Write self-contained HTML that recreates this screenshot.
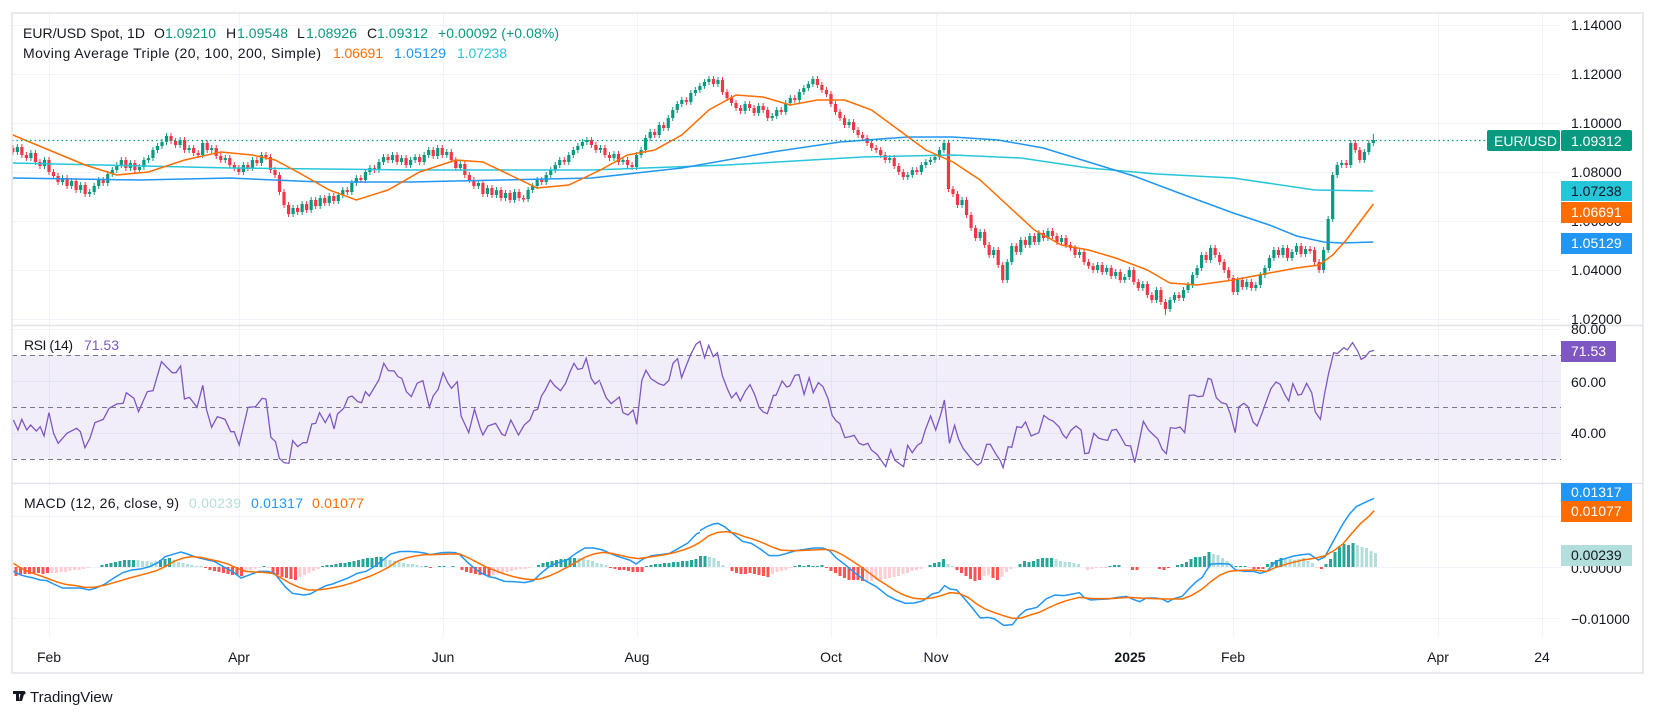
<!DOCTYPE html>
<html><head><meta charset="utf-8"><style>
html,body{margin:0;padding:0;background:#fff;}
svg{display:block;font-family:"Liberation Sans",sans-serif;}
.ns{vector-effect:non-scaling-stroke;fill:none;}
</style></head><body>
<svg width="1656" height="718" viewBox="0 0 1656 718" xmlns="http://www.w3.org/2000/svg">
<defs>
<clipPath id="cp1"><rect x="12" y="13" width="1549" height="312"/></clipPath>
<clipPath id="cp2"><rect x="12" y="326" width="1549" height="157"/></clipPath>
<clipPath id="cp3"><rect x="12" y="484" width="1549" height="154"/></clipPath>
</defs>
<rect x="0" y="0" width="1656" height="718" fill="#fff"/>
<g stroke="#f0f3fa" stroke-width="1">
<line x1="49.5" y1="13" x2="49.5" y2="638"/><line x1="239.5" y1="13" x2="239.5" y2="638"/><line x1="443.5" y1="13" x2="443.5" y2="638"/><line x1="637.5" y1="13" x2="637.5" y2="638"/><line x1="831.5" y1="13" x2="831.5" y2="638"/><line x1="936.5" y1="13" x2="936.5" y2="638"/><line x1="1130.5" y1="13" x2="1130.5" y2="638"/><line x1="1233.5" y1="13" x2="1233.5" y2="638"/><line x1="1438.5" y1="13" x2="1438.5" y2="638"/><line x1="1542.5" y1="13" x2="1542.5" y2="638"/>
<line x1="12" y1="25.5" x2="1561" y2="25.5"/><line x1="12" y1="74.5" x2="1561" y2="74.5"/><line x1="12" y1="123.5" x2="1561" y2="123.5"/><line x1="12" y1="172.5" x2="1561" y2="172.5"/><line x1="12" y1="221.5" x2="1561" y2="221.5"/><line x1="12" y1="270.5" x2="1561" y2="270.5"/><line x1="12" y1="319.5" x2="1561" y2="319.5"/>
<line x1="12" y1="329.5" x2="1561" y2="329.5"/><line x1="12" y1="381.5" x2="1561" y2="381.5"/><line x1="12" y1="433.5" x2="1561" y2="433.5"/>
<line x1="12" y1="516.5" x2="1561" y2="516.5"/><line x1="12" y1="567.5" x2="1561" y2="567.5"/><line x1="12" y1="618.5" x2="1561" y2="618.5"/>
</g>
<rect x="12" y="355" width="1549" height="104" fill="#7e57c2" fill-opacity="0.1"/>
<g stroke="#787b86" stroke-dasharray="5,4" stroke-width="1">
<line x1="12" y1="355.5" x2="1561" y2="355.5"/>
<line x1="12" y1="407.5" x2="1561" y2="407.5"/>
<line x1="12" y1="459.5" x2="1561" y2="459.5"/>
</g>

<g clip-path="url(#cp1)">
<g transform="translate(49,0) scale(4.52,1)">
<path class="ns" stroke="#089981" stroke-width="1" d="M-7,144V155M-4,150V161M-1,157V169M3,175V185M5,178V189M7,182V193M9,189V197M10,183V195M11,177V189M13,171V186M14,167V177M15,162V173M16,157V168M18,160V171M20,164V173M21,157V170M22,155V163M23,147V161M24,143V153M25,139V149M26,133V145M29,137V148M31,145V153M34,140V158M36,145V153M39,155V163M43,162V175M45,157V171M47,152V166M54,205V217M56,201V215M58,197V213M60,195V209M62,193V206M64,192V204M65,187V198M67,180V195M68,175V186M70,169V183M71,165V175M73,159V173M74,154V165M76,152V163M78,155V165M80,157V168M81,154V163M83,152V165M84,147V158M86,145V159M88,149V158M91,161V171M95,180V189M97,185V197M99,187V198M101,190V201M103,189V203M106,187V202M107,183V193M108,177V189M110,172V185M111,167V178M112,162V173M113,157V168M115,152V165M116,147V158M117,143V153M118,139V149M119,137V145M122,145V153M125,151V161M127,157V165M130,152V170M131,147V158M132,135V153M133,129V141M135,122V138M137,115V131M138,107V121M139,101V113M140,97V107M142,90V105M143,87V96M144,83V93M145,79V89M146,76V85M148,77V87M154,101V114M157,103V116M160,113V121M161,107V119M163,100V115M164,95V106M166,89V103M167,85V95M168,81V91M169,76V87M177,119V128M186,155V163M190,172V180M191,167V178M193,162V175M194,159V168M195,157V165M196,154V163M197,147V160M198,140V153M202,197V208M206,229V241M209,247V258M212,259V283M213,243V265M215,237V255M217,233V248M219,230V245M221,228V241M224,235V245M228,249V258M232,262V273M234,265V275M236,269V279M238,274V283M239,267V280M242,281V291M245,287V303M248,297V312M249,292V303M251,287V301M252,282V293M253,272V288M254,265V278M255,252V271M257,245V263M263,277V295M265,279V290M267,282V291M268,272V288M269,265V278M270,255V271M271,247V261M273,245V258M275,249V261M276,243V255M278,246V257M282,247V273M283,216V253M284,172V222M285,162V178M286,160V168M288,140V168M291,149V163M292,140V155M293,134V146"/>
<path class="ns" stroke="#089981" stroke-width="3.2" d="M-7,147V152M-4,153V158M-1,160V166M3,178V182M5,181V186M7,185V190M9,192V194M10,186V192M11,180V186M13,174V183M14,170V174M15,165V170M16,160V165M18,163V168M20,167V170M21,160V167M22,158V160M23,150V158M24,146V150M25,142V146M26,136V142M29,140V145M31,148V150M34,143V155M36,148V150M39,158V160M43,165V172M45,160V168M47,155V163M54,208V214M56,204V212M58,200V210M60,198V206M62,196V203M64,195V201M65,190V195M67,183V192M68,178V183M70,172V180M71,168V172M73,162V170M74,157V162M76,155V160M78,158V162M80,160V165M81,157V160M83,155V162M84,150V155M86,148V156M88,152V155M91,164V168M95,183V186M97,188V194M99,190V195M101,193V198M103,192V200M106,190V199M107,186V190M108,180V186M110,175V182M111,170V175M112,165V170M113,160V165M115,155V162M116,150V155M117,146V150M118,142V146M119,140V142M122,148V150M125,154V158M127,160V162M130,155V167M131,150V155M132,138V150M133,132V138M135,125V135M137,118V128M138,110V118M139,104V110M140,100V104M142,93V102M143,90V93M144,86V90M145,82V86M146,79V82M148,80V84M154,104V111M157,106V113M160,116V118M161,110V116M163,103V112M164,98V103M166,92V100M167,88V92M168,84V88M169,79V84M177,122V125M186,158V160M190,175V177M191,170V175M193,165V172M194,162V165M195,160V162M196,157V160M197,150V157M198,143V150M202,200V205M206,232V238M209,250V255M212,262V280M213,246V262M215,240V252M217,236V245M219,233V242M221,231V238M224,238V242M228,252V255M232,265V270M234,268V272M236,272V276M238,277V280M239,270V277M242,284V288M245,290V300M248,300V309M249,295V300M251,290V298M252,285V290M253,275V285M254,268V275M255,255V268M257,248V260M263,280V292M265,282V287M267,285V288M268,275V285M269,268V275M270,258V268M271,250V258M273,248V255M275,252V258M276,246V252M278,249V254M282,250V270M283,219V250M284,175V219M285,165V175M286,163V165M288,143V165M291,152V160M292,143V152M293,140V143"/>
<path class="ns" stroke="#f23645" stroke-width="1" d="M-8,145V155M-6,144V158M-5,152V161M-3,150V165M-2,159V169M0,157V175M1,169V179M2,173V185M4,175V189M6,178V193M8,182V197M12,177V186M17,157V171M19,160V173M27,133V144M28,138V148M30,137V153M32,145V156M33,150V158M35,140V153M37,145V159M38,153V163M40,155V168M41,162V171M42,165V175M44,162V171M46,157V166M48,152V160M49,154V173M50,167V178M51,172V195M52,189V208M53,202V217M55,205V215M57,201V213M59,197V209M61,195V206M63,193V204M66,187V195M69,175V183M72,165V173M75,154V163M77,152V165M79,155V168M82,154V165M85,147V159M87,145V158M89,149V163M90,157V171M92,161V178M93,172V183M94,177V189M96,180V197M98,185V198M100,187V201M102,190V203M104,189V201M105,195V202M109,177V185M114,157V165M120,137V148M121,142V153M123,145V158M124,152V161M126,151V165M128,157V168M129,162V170M134,129V138M136,122V131M141,97V105M147,76V87M149,77V95M150,89V101M151,95V106M152,100V111M153,105V114M155,101V111M156,105V116M158,103V113M159,107V121M162,107V115M165,95V103M170,76V88M171,82V93M172,87V97M173,91V107M174,101V115M175,109V121M176,115V128M178,119V133M179,127V138M180,132V141M181,135V146M182,140V151M183,145V153M184,147V158M185,152V163M187,155V169M188,163V175M189,169V180M192,167V175M199,140V192M200,186V197M201,191V208M203,197V218M204,212V231M205,225V241M207,229V248M208,242V258M210,247V268M211,262V283M214,243V255M216,237V248M218,233V245M220,230V241M222,228V239M223,233V245M225,235V248M226,242V251M227,245V258M229,249V265M230,259V269M231,263V273M233,262V275M235,265V279M237,269V283M240,267V285M241,279V291M243,281V298M244,292V303M246,287V305M247,299V315M250,292V301M256,252V263M258,245V258M259,252V265M260,259V273M261,267V281M262,275V295M264,277V290M266,279V291M272,247V258M274,245V261M277,243V257M279,246V254M280,247V265M281,259V273M287,160V168M289,140V153M290,147V163"/>
<path class="ns" stroke="#f23645" stroke-width="3.2" d="M-8,148V152M-6,147V155M-5,155V158M-3,153V162M-2,162V166M0,160V172M1,172V176M2,176V182M4,178V186M6,181V190M8,185V194M12,180V183M17,160V168M19,163V170M27,136V141M28,141V145M30,140V150M32,148V153M33,153V155M35,143V150M37,148V156M38,156V160M40,158V165M41,165V168M42,168V172M44,165V168M46,160V163M48,155V157M49,157V170M50,170V175M51,175V192M52,192V205M53,205V214M55,208V212M57,204V210M59,200V206M61,198V203M63,196V201M66,190V192M69,178V180M72,168V170M75,157V160M77,155V162M79,158V165M82,157V162M85,150V156M87,148V155M89,152V160M90,160V168M92,164V175M93,175V180M94,180V186M96,183V194M98,188V195M100,190V198M102,193V200M104,192V198M105,198V199.5M109,180V182M114,160V162M120,140V145M121,145V150M123,148V155M124,155V158M126,154V162M128,160V165M129,165V167M134,132V135M136,125V128M141,100V102M147,79V84M149,80V92M150,92V98M151,98V103M152,103V108M153,108V111M155,104V108M156,108V113M158,106V110M159,110V118M162,110V112M165,98V100M170,79V85M171,85V90M172,90V94M173,94V104M174,104V112M175,112V118M176,118V125M178,122V130M179,130V135M180,135V138M181,138V143M182,143V148M183,148V150M184,150V155M185,155V160M187,158V166M188,166V172M189,172V177M192,170V172M199,143V189M200,189V194M201,194V205M203,200V215M204,215V228M205,228V238M207,232V245M208,245V255M210,250V265M211,265V280M214,246V252M216,240V245M218,236V242M220,233V238M222,231V236M223,236V242M225,238V245M226,245V248M227,248V255M229,252V262M230,262V266M231,266V270M233,265V272M235,268V276M237,272V280M240,270V282M241,282V288M243,284V295M244,295V300M246,290V302M247,302V309M250,295V298M256,255V260M258,248V255M259,255V262M260,262V270M261,270V278M262,278V292M264,280V287M266,282V288M272,250V255M274,248V258M277,246V254M279,249V251M280,250V262M281,262V270M287,163V165M289,143V150M290,150V160"/>
<polyline class="ns" stroke="#26c6da" stroke-width="1.5" points="-8,163 40,168 80,170 120,170 150,165 180,157 200,155 215,158 230,168 245,174 262,178 280,190 293,191"/>
<polyline class="ns" stroke="#2196f3" stroke-width="1.5" points="-8,178 20,180 40,178 60,182 80,182 100,180 120,178 140,168 160,152 175,142 190,137 200,137 210,140 220,148 230,162 240,176 250,193 262,213 270,225 276,236 282,242 286,243 293,242"/>
<polyline class="ns" stroke="#ff6d00" stroke-width="1.5" points="-8,135 0,150 8,165 15,175 22,172 30,160 38,152 45,155 50,160 55,172 62,190 68,200 75,190 82,172 90,160 96,162 102,175 108,188 115,185 122,170 128,155 134,150 140,135 146,110 152,95 158,97 164,105 170,100 176,100 182,110 188,130 194,150 200,162 206,180 212,205 218,230 224,245 230,250 236,258 243,270 248,283 254,285 262,280 270,273 276,268 281,265 284,255 287,240 290,222 293,204"/>
</g>
</g>

<g clip-path="url(#cp2)">
<g transform="translate(0,320) scale(0.38265,0.33333)">
<polyline class="ns" stroke="#7e57c2" stroke-width="1.3" points="35,300 47,330 57,298 70,330 80,315 95,333 105,320 115,348 128,278 140,340 152,370 175,340 200,325 210,335 222,383 235,355 248,308 270,298 285,265 305,252 322,250 330,218 350,235 362,275 385,215 400,212 422,125 450,158 460,158 472,138 482,237 495,232 515,262 530,196 540,270 553,322 568,290 588,298 603,335 612,335 625,375 648,262 668,260 685,235 695,237 708,352 720,365 730,415 742,428 755,430 765,362 778,380 792,368 802,368 815,312 825,310 835,278 850,308 862,282 873,327 882,282 898,265 910,232 920,228 935,245 945,248 955,215 965,228 990,180 1003,130 1015,152 1030,153 1040,170 1050,175 1062,215 1075,230 1090,190 1105,182 1122,262 1132,228 1145,208 1158,158 1170,188 1180,205 1195,185 1205,288 1225,338 1240,268 1255,325 1262,345 1275,318 1295,310 1312,343 1320,347 1335,300 1355,345 1370,315 1385,300 1395,272 1405,268 1415,228 1425,210 1438,180 1450,198 1465,212 1478,190 1490,155 1500,130 1510,148 1522,145 1532,115 1545,175 1555,192 1568,180"/>
</g>
<g transform="translate(600,326) scale(0.5102,0.33333)">
<polyline class="ns" stroke="#7e57c2" stroke-width="1.3" points="0,168 12,215 22,233 38,213 45,260 55,267 65,252 72,295 82,163 90,133 100,158 115,173 125,178 135,163 143,112 152,98 160,155 170,115 178,85 188,55 196,46 205,95 213,58 222,92 230,80 240,150 250,190 258,216 267,200 275,225 285,195 294,176 303,205 312,245 320,258 328,263 340,208 345,208 357,165 366,183 372,180 382,148 390,146 400,205 410,155 418,200 428,170 437,182 447,218 455,268 463,285 470,293 480,335 490,332 498,328 508,352 516,357 525,352 532,372 543,385 552,405 560,422 570,372 578,403 595,422 603,358 612,380 622,358 630,350 638,310 648,270 658,312 668,265 675,222 685,352 695,298 703,340 712,368 720,383 730,403 740,418 747,410 758,355 765,355 775,382 785,405 790,425 800,362 807,364 817,302 826,305 834,288 845,330 860,320 870,268 880,280 888,285 900,303 907,325 914,337 923,313 933,300 943,312 950,383 958,381 968,322 977,336 985,340 995,343 1003,313 1012,310 1020,330 1030,358 1040,360 1048,410 1055,360 1065,286 1075,312 1087,330 1093,338 1102,370 1110,383 1118,305 1128,307 1137,303 1146,320 1155,208 1165,207 1172,212 1182,210 1192,157 1198,160 1208,215 1218,230 1228,234 1235,262 1245,320 1252,243 1262,232 1270,242 1280,288 1288,300 1298,260 1305,230 1315,188 1325,168 1333,175 1343,208 1350,225 1358,173 1368,207 1375,205 1385,172 1395,200 1402,258 1412,280 1420,205 1428,143 1438,80 1445,83 1458,65 1465,72 1475,50 1485,75 1492,100 1500,93 1508,77 1517,73"/>
</g>
</g>

<g clip-path="url(#cp3)">
<path stroke="#ff5252" stroke-width="3" fill="none" d="M16,567v9M20.5,567v8M25,567v7M29.5,567v7M34,567v6M38.5,567v6M43,567v7M47.5,567v6M205.5,567v1M210,567v3M214.5,567v4M219,567v5M223.5,567v6M228,567v7M232.5,567v8M237,567v8M241.5,567v9M273,567v6M277.5,567v8M282,567v10M286.5,567v11M291,567v12M295.5,567v13M430.5,567v1M462,567v3M466.5,567v5M471,567v6M475.5,567v7M480,567v8M484.5,567v8M489,567v9M610.5,567v1M615,567v2M619.5,567v3M624,567v3M628.5,567v4M633,567v5M637.5,567v5M642,567v5M732,567v4M736.5,567v6M741,567v7M745.5,567v7M750,567v6M754.5,567v7M759,567v8M763.5,567v9M768,567v10M826.5,567v1M831,567v4M835.5,567v6M840,567v9M844.5,567v11M849,567v13M853.5,567v13M858,567v13M862.5,567v14M957,567v3M961.5,567v6M966,567v9M970.5,567v12M975,567v14M979.5,567v13M993,567v11M997.5,567v13M1132.5,567v3M1137,567v3M1159.5,567v2M1164,567v3M1168.5,567v1M1254,567v2M1258.5,567v2M1263,567v2M1321.5,567v2"/>
<path stroke="#ffcdd2" stroke-width="3" fill="none" d="M52,567v6M56.5,567v6M61,567v5M65.5,567v5M70,567v4M74.5,567v3M79,567v3M83.5,567v2M88,567v1M246,567v5M250.5,567v3M255,567v2M259.5,567v1M268.5,567v1M300,567v10M304.5,567v8M309,567v6M313.5,567v4M318,567v2M493.5,567v8M498,567v7M502.5,567v6M507,567v5M511.5,567v4M516,567v3M520.5,567v2M525,567v2M529.5,567v1M642,567v0M772.5,567v7M777,567v5M781.5,567v4M786,567v3M790.5,567v1M867,567v14M871.5,567v14M876,567v13M880.5,567v13M885,567v12M889.5,567v11M894,567v10M898.5,567v9M903,567v7M907.5,567v6M912,567v4M916.5,567v3M921,567v2M984,567v9M988.5,567v8M1002,567v10M1006.5,567v5M1011,567v2M1087.5,567v3M1092,567v2M1096.5,567v1M1101,567v1M1105.5,567v1M1249.5,567v1M1317,567v1"/>
<path stroke="#26a69a" stroke-width="3" fill="none" d="M102,567v-2M106.5,567v-3M111,567v-4M115.5,567v-5M120,567v-6M124.5,567v-7M129,567v-7M133.5,567v-7M160.5,567v-7M165,567v-8M169.5,567v-9M264,567v-1M322.5,567v-1M327,567v-2M331.5,567v-2M336,567v-3M340.5,567v-4M345,567v-4M349.5,567v-5M354,567v-6M358.5,567v-7M363,567v-8M367.5,567v-9M372,567v-9M376.5,567v-10M381,567v-10M426,567v-1M439.5,567v-1M444,567v-1M453,567v-1M538.5,567v-2M543,567v-4M547.5,567v-5M552,567v-6M556.5,567v-7M561,567v-8M565.5,567v-8M570,567v-9M574.5,567v-9M646.5,567v-1M651,567v-2M655.5,567v-3M660,567v-3M664.5,567v-4M669,567v-4M673.5,567v-5M678,567v-5M682.5,567v-6M687,567v-6M691.5,567v-7M696,567v-8M700.5,567v-11M705,567v-11M795,567v-1M799.5,567v-2M804,567v-1M808.5,567v-2M813,567v-1M817.5,567v-1M822,567v-2M930,567v-2M934.5,567v-4M939,567v-5M943.5,567v-8M1020,567v-3M1024.5,567v-6M1029,567v-5M1033.5,567v-6M1038,567v-8M1042.5,567v-9M1047,567v-9M1051.5,567v-9M1110,567v-1M1114.5,567v-2M1119,567v-2M1177.5,567v-2M1182,567v-3M1186.5,567v-5M1191,567v-8M1195.5,567v-10M1200,567v-10M1204.5,567v-11M1209,567v-15M1236,567v-1M1240.5,567v-1M1245,567v-1M1267.5,567v-3M1272,567v-5M1276.5,567v-7M1281,567v-9M1326,567v-3M1330.5,567v-8M1335,567v-15M1339.5,567v-20M1344,567v-23M1348.5,567v-22M1353,567v-24"/>
<path stroke="#b2dfdb" stroke-width="3" fill="none" d="M138,567v-7M142.5,567v-6M147,567v-6M151.5,567v-5M156,567v-6M174,567v-7M178.5,567v-5M183,567v-4M187.5,567v-3M192,567v-2M196.5,567v-1M201,567v-1M385.5,567v-9M390,567v-7M394.5,567v-6M399,567v-5M403.5,567v-4M408,567v-3M412.5,567v-3M417,567v-2M421.5,567v-1M579,567v-9M583.5,567v-8M588,567v-7M592.5,567v-6M597,567v-4M601.5,567v-3M606,567v-2M709.5,567v-10M714,567v-9M718.5,567v-6M723,567v-2M948,567v-3M952.5,567v-1M1056,567v-8M1060.5,567v-6M1065,567v-5M1069.5,567v-5M1074,567v-4M1078.5,567v-3M1213.5,567v-13M1218,567v-12M1222.5,567v-9M1227,567v-6M1231.5,567v-3M1285.5,567v-8M1290,567v-8M1294.5,567v-7M1299,567v-8M1303.5,567v-9M1308,567v-6M1312.5,567v-4M1357.5,567v-22M1362,567v-20M1366.5,567v-19M1371,567v-16M1375.5,567v-14"/>
<g transform="translate(0,484) scale(0.44643,0.33333)">
<polyline class="ns" stroke="#2196f3" stroke-width="1.5" points="30,262 45,272 60,278 75,282 90,288 105,290 120,300 140,312 165,312 180,312 200,318 215,312 235,300 255,282 275,266 295,258 315,255 335,248 355,235 370,218 385,212 405,204 420,210 440,220 460,226 480,232 500,248 520,262 540,282 560,272 580,262 600,262 615,268 625,285 640,310 655,328 680,333 695,330 715,315 730,305 745,300 760,292 780,282 800,268 820,262 840,246 860,226 875,210 895,203 915,202 935,204 950,207 965,212 990,206 1005,205 1020,206 1030,212 1045,232 1060,250 1075,265 1095,278 1110,282 1130,292 1150,293 1175,296 1195,290 1210,270 1230,248 1250,236 1270,228 1290,208 1310,192 1330,192 1350,198 1370,210 1390,220 1410,228 1425,240 1440,225 1460,215 1480,212 1500,208 1520,193 1540,178 1560,150 1568,145"/>
<polyline class="ns" stroke="#ff6d00" stroke-width="1.5" points="30,238 50,255 70,266 90,275 110,285 130,295 150,302 170,305 190,310 210,310 230,305 250,298 270,290 290,282 310,275 330,268 350,260 370,248 390,232 410,222 430,218 450,220 470,226 490,232 510,240 530,252 550,262 570,264 590,265 610,268 630,282 650,298 670,310 690,318 710,318 730,315 750,310 770,304 790,296 810,286 830,276 850,264 870,250 890,232 910,222 930,216 950,212 970,212 990,211 1010,210 1030,210 1050,222 1070,236 1090,250 1110,260 1130,270 1150,278 1170,284 1190,287 1210,285 1230,276 1250,264 1270,250 1290,235 1310,220 1330,210 1350,205 1370,208 1390,214 1410,220 1430,224 1450,220 1470,216 1490,212 1510,206 1530,198 1550,188 1568,175"/>
</g>
<g transform="translate(700,484) scale(0.44643,0.33333)">
<polyline class="ns" stroke="#2196f3" stroke-width="1.5" points="0,140 15,128 30,120 40,118 55,128 75,150 95,172 115,178 135,195 155,215 175,215 195,208 215,200 235,196 255,192 275,192 290,200 305,222 325,242 350,270 370,290 395,308 420,335 440,348 460,358 480,357 500,350 520,330 535,325 548,305 560,315 575,318 590,340 610,372 628,402 645,400 660,405 680,424 700,422 715,395 730,378 755,370 775,345 795,333 815,335 835,330 850,326 860,340 875,348 895,346 915,345 935,340 955,337 970,346 985,353 1000,342 1020,342 1035,345 1048,354 1060,345 1080,337 1095,315 1110,295 1125,280 1135,258 1145,240 1165,239 1185,240 1200,258 1220,262 1240,262 1255,268 1270,262 1290,232 1310,224 1330,216 1350,212 1365,210 1385,228 1400,218 1420,168 1440,120 1455,90 1470,68 1490,55 1510,43"/>
<polyline class="ns" stroke="#ff6d00" stroke-width="1.5" points="0,175 20,155 40,145 60,143 80,148 100,158 120,166 140,176 160,188 180,198 200,200 220,200 250,198 280,196 300,200 320,213 340,230 360,248 380,268 400,288 420,305 440,322 460,335 480,343 500,345 520,342 540,335 560,326 580,328 600,340 620,360 640,376 660,386 680,395 700,403 720,402 740,393 760,385 780,372 800,360 820,350 850,340 880,344 920,344 960,340 1000,343 1040,345 1080,345 1100,335 1125,315 1145,292 1165,273 1185,262 1210,259 1240,258 1270,262 1290,250 1320,238 1350,228 1380,222 1400,215 1420,200 1440,180 1460,148 1480,118 1500,95 1510,80"/>
</g>
</g>

<line x1="12" y1="140.5" x2="1487" y2="140.5" stroke="#089981" stroke-dasharray="1.5,3" stroke-width="1.2"/>
<g stroke="#e0e3eb" stroke-width="1.5" fill="none">
<rect x="12" y="13" width="1631" height="660"/>
<line x1="12" y1="325.5" x2="1643" y2="325.5"/>
<line x1="12" y1="483.5" x2="1643" y2="483.5"/>
</g>
<g font-size="14" fill="#131722">
<text x="23" y="38" textLength="122">EUR/USD Spot, 1D</text>
<text x="154" y="38">O</text><text x="165" y="38" fill="#089981" textLength="51">1.09210</text>
<text x="226" y="38">H</text><text x="237" y="38" fill="#089981" textLength="51">1.09548</text>
<text x="297" y="38">L</text><text x="306" y="38" fill="#089981" textLength="51">1.08926</text>
<text x="367" y="38">C</text><text x="377" y="38" fill="#089981" textLength="51">1.09312</text>
<text x="438" y="38" fill="#089981" textLength="121">+0.00092 (+0.08%)</text>
<text x="23" y="58" textLength="298">Moving Average Triple (20, 100, 200, Simple)</text>
<text x="333" y="58" fill="#ff6d00" textLength="50">1.06691</text>
<text x="394" y="58" fill="#2196f3" textLength="52">1.05129</text>
<text x="457" y="58" fill="#26c6da" textLength="50">1.07238</text>
<text x="24" y="350" textLength="49">RSI (14)</text>
<text x="84" y="350" fill="#7e57c2" textLength="35">71.53</text>
<text x="24" y="508" textLength="155">MACD (12, 26, close, 9)</text>
<text x="189" y="508" fill="#b2dfdb" textLength="52">0.00239</text>
<text x="251" y="508" fill="#2196f3" textLength="52">0.01317</text>
<text x="312" y="508" fill="#ff6d00" textLength="52">0.01077</text>
</g>
<g font-size="14" fill="#131722">
<text x="1571" y="30">1.14000</text>
<text x="1571" y="79">1.12000</text>
<text x="1571" y="128">1.10000</text>
<text x="1571" y="177">1.08000</text>
<text x="1571" y="226">1.06000</text>
<text x="1571" y="275">1.04000</text>
<text x="1571" y="324">1.02000</text>
<text x="1571" y="334">80.00</text>
<text x="1571" y="387">60.00</text>
<text x="1571" y="438">40.00</text>
<text x="1571" y="573">0.00000</text>
<text x="1571" y="624">−0.01000</text>
</g>
<rect x="1487" y="130" width="73" height="21" rx="2" fill="#089981"/>
<rect x="1561" y="130" width="71" height="21" rx="2" fill="#089981"/>
<text x="1494" y="146" font-size="14" fill="#fff">EUR/USD</text>
<text x="1571" y="146" font-size="14" fill="#fff">1.09312</text>
<rect x="1561" y="181" width="71" height="20" fill="#26c6da"/>
<text x="1571" y="196" font-size="14" fill="#131722">1.07238</text>
<rect x="1561" y="202" width="71" height="21" fill="#ff6d00"/>
<text x="1571" y="217" font-size="14" fill="#fff">1.06691</text>
<rect x="1561" y="233" width="71" height="21" fill="#2196f3"/>
<text x="1571" y="248" font-size="14" fill="#fff">1.05129</text>
<rect x="1561" y="341" width="55" height="21" fill="#7e57c2"/>
<text x="1571" y="356" font-size="14" fill="#fff">71.53</text>
<rect x="1561" y="483" width="71" height="18" fill="#2196f3"/>
<text x="1571" y="497" font-size="14" fill="#fff">0.01317</text>
<rect x="1561" y="501" width="71" height="21" fill="#ff6d00"/>
<text x="1571" y="516" font-size="14" fill="#fff">0.01077</text>
<rect x="1561" y="545" width="71" height="21" fill="#b2dfdb"/>
<text x="1571" y="560" font-size="14" fill="#131722">0.00239</text>
<g font-size="14" fill="#131722" text-anchor="middle">
<text x="49" y="662">Feb</text><text x="239" y="662">Apr</text><text x="443" y="662">Jun</text>
<text x="637" y="662">Aug</text><text x="831" y="662">Oct</text><text x="936" y="662">Nov</text>
<text x="1130" y="662" font-weight="bold">2025</text><text x="1233" y="662">Feb</text>
<text x="1438" y="662">Apr</text><text x="1542" y="662">24</text>
</g>
<g fill="#131722">
<rect x="13" y="691" width="8" height="3"/><rect x="16" y="691" width="3" height="10"/>
<path d="M21 691 h4 l-3 10 h-3z"/><circle cx="24" cy="693" r="1.5"/>
<text x="30" y="702" font-size="15" fill="#131722">TradingView</text>
</g>
</svg>
</body></html>
